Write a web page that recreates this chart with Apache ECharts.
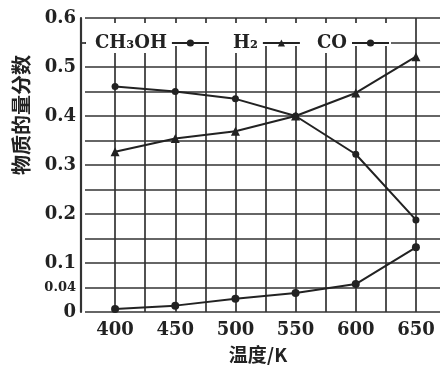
<!DOCTYPE html>
<html>
<head>
<meta charset="utf-8">
<script src="https://cdn.jsdelivr.net/npm/echarts@6/dist/echarts.min.js"></script>
<style>
html,body{margin:0;padding:0;background:#fff;}
#chart{width:443px;height:365px;}
</style>
</head>
<body>
<div id="chart"></div>
<script>
// ---- data ----
const temps = [400, 450, 500, 550, 600, 650];
const ch3oh = [0.46, 0.45, 0.435, 0.40, 0.322, 0.188];
const h2 = [0.327, 0.354, 0.369, 0.40, 0.447, 0.521];
const co = [0.006, 0.013, 0.027, 0.039, 0.057, 0.132];
const seriesNames = ['CH₃OH', 'H₂', 'CO'];
const xTickLabels = ['400', '450', '500', '550', '600', '650'];
const yTickValues = [0, 0.05, 0.1, 0.2, 0.3, 0.4, 0.5, 0.6];
const yTickLabels = ['0', '0.04', '0.1', '0.2', '0.3', '0.4', '0.5', '0.6'];
const yAxisName = '物质的量分数';
const xAxisName = '温度/K';

const ink = '#222';
const gridInk = '#333';
const font = 'DejaVu Serif';

function pairs(ys) { return temps.map((t, i) => [t, ys[i]]); }

const chart = echarts.init(document.getElementById('chart'), null, {renderer: 'canvas'});

const legendBase = {
  orient: 'horizontal', align: 'right', padding: 0, top: 33,
  itemWidth: 37, itemHeight: 9,
  textStyle: {fontFamily: font, fontWeight: 'bold', fontSize: 18, color: ink, lineHeight: 20,
              backgroundColor: '#fff'}
};

chart.setOption({
  animation: false,
  backgroundColor: '#fff',
  grid: {left: 85, top: 18, height: 294, width: 358, containLabel: false},
  legend: [
    Object.assign({}, legendBase, {data: [seriesNames[0]], left: 95}),
    Object.assign({}, legendBase, {data: [seriesNames[1]], left: 233}),
    Object.assign({}, legendBase, {data: [seriesNames[2]], left: 317})
  ],
  xAxis: {
    type: 'value', min: 375, max: 670, interval: 25,
    axisLine: {show: false},
    axisTick: {show: false},
    axisLabel: {
      margin: 9, fontFamily: font, fontWeight: 'bold', fontSize: 18, color: ink,
      formatter: v => { const i = xTickLabels.indexOf(String(v)); return i >= 0 ? xTickLabels[i] : ''; }
    },
    splitLine: {show: true, showMinLine: false, showMaxLine: false, lineStyle: {color: gridInk, width: 1.7}}
  },
  yAxis: {
    type: 'value', min: 0, max: 0.6, interval: 0.05, offset: 4,
    axisLine: {show: true, lineStyle: {color: gridInk, width: 2.2}},
    axisTick: {show: false},
    axisLabel: {
      margin: 5, fontFamily: font, fontWeight: 'bold', fontSize: 18, color: ink,
      formatter: v => {
        const i = yTickValues.findIndex(t => Math.abs(t - v) < 1e-6);
        if (i < 0) return '';
        return yTickLabels[i] === '0.04' ? '{s|' + yTickLabels[i] + '}' : yTickLabels[i];
      },
      rich: {s: {fontFamily: font, fontWeight: 'bold', fontSize: 13, color: ink}}
    },
    splitLine: {show: true, lineStyle: {color: gridInk, width: 1.7}}
  },
  graphic: [
    {type: 'rect', z: 1, shape: {x: 84, y: 23, width: 307, height: 15}, style: {fill: '#fff'}},
    {type: 'rect', z: 1, shape: {x: 86, y: 38, width: 305, height: 8}, style: {fill: '#fff'}},
    {type: 'line', z: 1, shape: {x1: 81, y1: 43, x2: 86, y2: 43}, style: {stroke: gridInk, lineWidth: 1.7}},
    {type: 'text', z: 5, x: 21, y: 115, rotation: Math.PI / 2,
     style: {text: yAxisName, fontFamily: 'Noto Sans CJK SC', fontWeight: 'bold', fontSize: 20,
             fill: ink, align: 'center', verticalAlign: 'middle'}},
    {type: 'text', z: 5, x: 258, y: 355,
     style: {text: xAxisName, fontFamily: 'Noto Sans CJK SC', fontWeight: 'bold', fontSize: 19,
             fill: ink, align: 'center', verticalAlign: 'middle'}}
  ],
  series: [
    {name: seriesNames[0], type: 'line', data: pairs(ch3oh), symbol: 'circle', symbolSize: 7,
     lineStyle: {color: ink, width: 2}, itemStyle: {color: ink}},
    {name: seriesNames[1], type: 'line', data: pairs(h2), symbol: 'triangle', symbolSize: 9,
     lineStyle: {color: ink, width: 2}, itemStyle: {color: ink}},
    {name: seriesNames[2], type: 'line', data: pairs(co), symbol: 'circle', symbolSize: 8,
     lineStyle: {color: ink, width: 2}, itemStyle: {color: ink}}
  ]
});
</script>
</body>
</html>
